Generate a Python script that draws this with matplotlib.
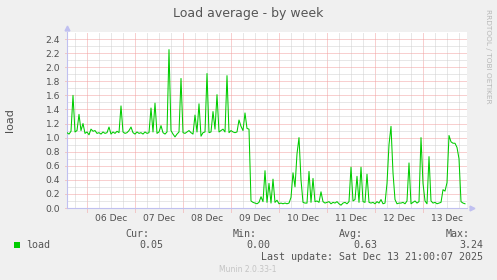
import numpy as np
import matplotlib
matplotlib.use("Agg")
import matplotlib.pyplot as plt
from matplotlib.patches import Rectangle

# load average, one sample per hour, starting Dec 5 14:00
load = [
    1.07, 1.05, 1.09, 1.60, 1.08, 1.10, 1.33, 1.10, 1.20, 1.06,
    1.08, 1.04, 1.12, 1.09, 1.10, 1.06, 1.07, 1.05, 1.08, 1.06,
    1.07, 1.15, 1.05, 1.08, 1.06, 1.09, 1.07, 1.45, 1.08, 1.06,
    1.07, 1.10, 1.15, 1.07, 1.05, 1.08, 1.06, 1.07, 1.05, 1.08,
    1.06, 1.07, 1.42, 1.08, 1.49, 1.06, 1.08, 1.17, 1.07, 1.05,
    1.08, 2.25, 1.10, 1.05, 1.01, 1.05, 1.08, 1.84, 1.07, 1.06,
    1.08, 1.10, 1.07, 1.05, 1.32, 1.08, 1.48, 1.02, 1.07, 1.08,
    1.91, 1.07, 1.08, 1.37, 1.12, 1.61, 1.08, 1.10, 1.12, 1.08,
    1.88, 1.07, 1.10, 1.08, 1.07, 1.08, 1.25, 1.16, 1.10, 1.35,
    1.13, 1.12, 0.10, 0.08, 0.07, 0.06, 0.08, 0.16, 0.09, 0.53,
    0.08, 0.35, 0.07, 0.41, 0.08, 0.11, 0.06, 0.07, 0.06, 0.07,
    0.06, 0.07, 0.15, 0.50, 0.30, 0.77, 1.00, 0.40, 0.08, 0.07,
    0.07, 0.52, 0.08, 0.42, 0.09, 0.10, 0.08, 0.23, 0.09, 0.07,
    0.08, 0.09, 0.06, 0.08, 0.07, 0.09, 0.06, 0.04, 0.07, 0.08,
    0.06, 0.09, 0.58, 0.10, 0.12, 0.45, 0.08, 0.58, 0.09, 0.08,
    0.48, 0.08, 0.07, 0.08, 0.06, 0.09, 0.07, 0.12, 0.06, 0.07,
    0.35, 0.90, 1.16, 0.50, 0.12, 0.06, 0.07, 0.07, 0.08, 0.06,
    0.10, 0.64, 0.06, 0.08, 0.10, 0.07, 0.09, 1.00, 0.35, 0.10,
    0.06, 0.73, 0.10, 0.07, 0.08, 0.06, 0.07, 0.08, 0.26, 0.24,
    0.36, 1.03, 0.94, 0.92, 0.92, 0.86, 0.70, 0.09, 0.07, 0.06,
]
hours = np.arange(len(load))

day_labels = ['06 Dec', '07 Dec', '08 Dec', '09 Dec', '10 Dec', '11 Dec', '12 Dec', '13 Dec']
first_midnight = 10   # hours after start
y_ticks = [0.0, 0.2, 0.4, 0.6, 0.8, 1.0, 1.2, 1.4, 1.6, 1.8, 2.0, 2.2, 2.4]

stat_names = ['Cur:', 'Min:', 'Avg:', 'Max:']
stat_values = ['0.05', '0.00', '0.63', '3.24']

W, H = 497, 280
bg = '#F0F0F0'
txt = '#555555'
mono = 'DejaVu Sans Mono'

fig = plt.figure(figsize=(W / 100, H / 100), dpi=100, facecolor=bg)
ax = fig.add_axes([67 / W, 72 / H, 400 / W, 176 / H])
ax.set_facecolor('white')
ax.set_xlim(0, 200)
ax.set_ylim(0, 2.5)

# grid: gray every 6h / 0.1, red every day / 0.2
xt = ax.get_xaxis_transform()
yt = ax.get_yaxis_transform()
for h in np.arange(first_midnight - 6, 200, 6):
    major = (h - first_midnight) % 24 == 0
    ax.plot([h, h], [-0.02 if major else 0, 1], transform=xt, clip_on=False,
            color='#F2A0A0' if major else '#D0D0D0', lw=0.72, dashes=(1, 1), zorder=1)
for i in range(25):
    v = i * 0.1
    major = i % 2 == 0
    ax.plot([-0.006 if major else 0, 1], [v, v], transform=yt, clip_on=False,
            color='#F2A0A0' if major else '#D0D0D0', lw=0.72, dashes=(1, 1), zorder=1)

ax.plot(hours, load, color='#00CC00', lw=0.75, zorder=3)

for s in ['top', 'right']:
    ax.spines[s].set_visible(False)
for s in ['left', 'bottom']:
    ax.spines[s].set_color('#C0C0F0')
    ax.spines[s].set_linewidth(0.8)
ax.plot([0], [1.025], marker='^', ms=3.5, color='#C0C0F0', transform=ax.transAxes, clip_on=False)
ax.plot([1.012], [0], marker='>', ms=3.5, color='#C0C0F0', transform=ax.transAxes, clip_on=False)

ax.set_xticks([first_midnight + 12 + 24 * i for i in range(len(day_labels))])
ax.set_xticklabels(day_labels)
ax.set_yticks(y_ticks)
ax.set_yticklabels(['%.1f' % v for v in y_ticks])
ax.tick_params(axis='both', length=0, labelsize=6.6, labelcolor='#505050')
ax.tick_params(axis='x', pad=4)
ax.tick_params(axis='y', pad=5)
ax.set_ylabel('load', fontsize=8, color='#505050', labelpad=22)

def fx(x):
    return x / W

def fy(y):
    return 1 - y / H

fig.text(fx(248.5), fy(14), 'Load average - by week', ha='center', va='center',
         fontsize=9, color='#555555')
fig.text(fx(488), fy(56), 'RRDTOOL / TOBI OETIKER', ha='center', va='center',
         rotation=270, fontsize=5.3, color='#B8B8B8')

# legend row
fig.patches.append(Rectangle((fx(14), fy(248)), 6 / W, 6 / H, transform=fig.transFigure,
                             facecolor='#00CC00', edgecolor='none'))
fig.text(fx(26), fy(245.5), 'load', ha='left', va='center', fontsize=7.2,
         family=mono, color=txt)
name_right = [149, 257, 363, 470]
value_right = [163, 270, 377, 483]
for n, v, nr, vr in zip(stat_names, stat_values, name_right, value_right):
    fig.text(fx(nr), fy(234), n, ha='right', va='center', fontsize=7.2, family=mono, color=txt)
    fig.text(fx(vr), fy(245.5), v, ha='right', va='center', fontsize=7.2, family=mono, color=txt)
fig.text(fx(483), fy(257.5), 'Last update: Sat Dec 13 21:00:07 2025', ha='right', va='center',
         fontsize=7.2, family=mono, color=txt)
fig.text(fx(248), fy(269.5), 'Munin 2.0.33-1', ha='center', va='center', fontsize=5.5,
         color='#C4C4C4')

fig.savefig('out.png', dpi=100, facecolor=bg)
